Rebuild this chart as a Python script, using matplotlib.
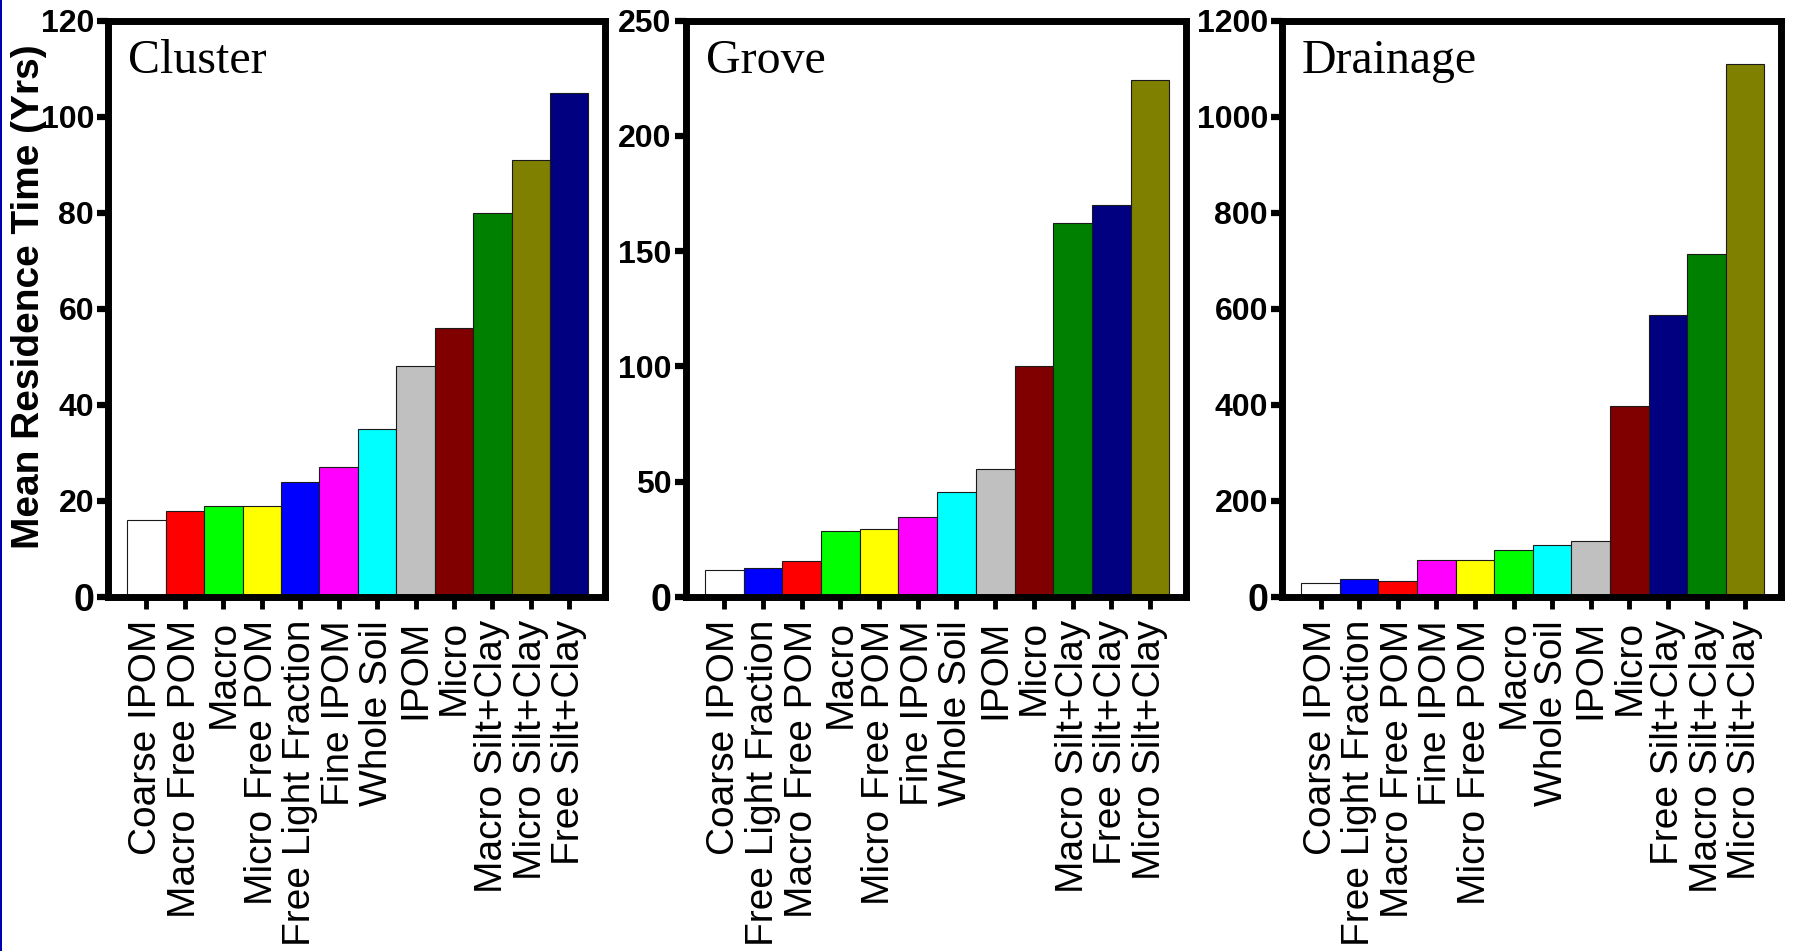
import matplotlib
matplotlib.use("Agg")
import matplotlib.pyplot as plt
from matplotlib.patches import Rectangle

# ---------------- data ----------------
cluster_labels = ["Coarse IPOM", "Macro Free POM", "Macro", "Micro Free POM",
                  "Free Light Fraction", "Fine IPOM", "Whole Soil", "IPOM",
                  "Micro", "Macro Silt+Clay", "Micro Silt+Clay", "Free Silt+Clay"]
cluster_values = [16, 18, 19, 19, 24, 27, 35, 48, 56, 80, 91, 105]

grove_labels = ["Coarse IPOM", "Free Light Fraction", "Macro Free POM", "Macro",
                "Micro Free POM", "Fine IPOM", "Whole Soil", "IPOM", "Micro",
                "Macro Silt+Clay", "Free Silt+Clay", "Micro Silt+Clay"]
grove_values = [11.5, 12.5, 15.5, 28.5, 29.5, 34.5, 45.5, 55.5, 100, 162, 170, 224]

drainage_labels = ["Coarse IPOM", "Free Light Fraction", "Macro Free POM", "Fine IPOM",
                   "Micro Free POM", "Macro", "Whole Soil", "IPOM", "Micro",
                   "Free Silt+Clay", "Macro Silt+Clay", "Micro Silt+Clay"]
drainage_values = [30, 38, 34, 77, 77, 97, 108, 116, 398, 588, 713, 1110]

panel_titles = ["Cluster", "Grove", "Drainage"]
y_limits = [120, 250, 1200]
y_steps = [20, 50, 200]
y_label = "Mean Residence Time (Yrs)"

fraction_colors = {
    "Coarse IPOM": "#FFFFFF", "Macro Free POM": "#FF0000", "Macro": "#00FF00",
    "Micro Free POM": "#FFFF00", "Free Light Fraction": "#0000FF",
    "Fine IPOM": "#FF00FF", "Whole Soil": "#00FFFF", "IPOM": "#C0C0C0",
    "Micro": "#800000", "Macro Silt+Clay": "#008000",
    "Micro Silt+Clay": "#808000", "Free Silt+Clay": "#000080",
}

# ---------------- layout ----------------
W, H = 1795, 951
fig = plt.figure(figsize=(W / 100, H / 100), dpi=100)
fig.patch.set_facecolor("white")

top_px, bot_px = 20.5, 597
panel_px = [(108, 605), (685.5, 1186), (1282, 1781)]

sans = ["Liberation Sans", "DejaVu Sans"]
serif = ["Liberation Serif", "DejaVu Serif"]

panels = [(cluster_labels, cluster_values),
          (grove_labels, grove_values),
          (drainage_labels, drainage_values)]

for i, ((labels, values), (l, r)) in enumerate(zip(panels, panel_px)):
    ax = fig.add_axes([l / W, (H - bot_px) / H, (r - l) / W, (bot_px - top_px) / H])
    x = list(range(len(labels)))
    cols = [fraction_colors[c] for c in labels]
    ax.bar(x, values, width=1.0, color=cols, edgecolor="#1a1a1a", linewidth=0.8,
           zorder=2)
    ax.set_xlim(-1.0, 11.93)
    ax.set_ylim(0, y_limits[i])
    ax.set_yticks(list(range(0, y_limits[i] + 1, y_steps[i])))
    ax.set_xticks(x)
    ax.set_xticklabels(labels, rotation=90, ha="center", va="top",
                       fontfamily=sans, fontsize=28)
    for t in ax.get_yticklabels():
        t.set_fontfamily(sans)
        t.set_fontweight("bold")
        t.set_fontsize(23)
    ax.get_yticklabels()[0].set_fontsize(27)
    for s in ax.spines.values():
        s.set_linewidth(5)
        s.set_color("black")
        s.set_capstyle("projecting")
    ax.tick_params(axis="y", direction="out", length=8, width=4.5, pad=2,
                   colors="black")
    ax.tick_params(axis="x", direction="out", length=8.5, width=3.5, pad=8,
                   colors="black")
    width_px = r - l
    ax.text(20 / width_px, 1 - 52.5 / (bot_px - top_px), panel_titles[i],
            transform=ax.transAxes, ha="left", va="baseline",
            fontfamily=serif, fontsize=34.5, color="black")

fig.text(29 / W, 1 - 297 / H, y_label, rotation=90, ha="center", va="center",
         fontfamily=sans, fontweight="bold", fontsize=28)

# thin blue border on the left edge
fig.patches.append(Rectangle((0, 0), 2 / W, 1, transform=fig.transFigure,
                             facecolor="#0000B0", edgecolor="none"))

fig.savefig("out.png", dpi=100, facecolor="white")
